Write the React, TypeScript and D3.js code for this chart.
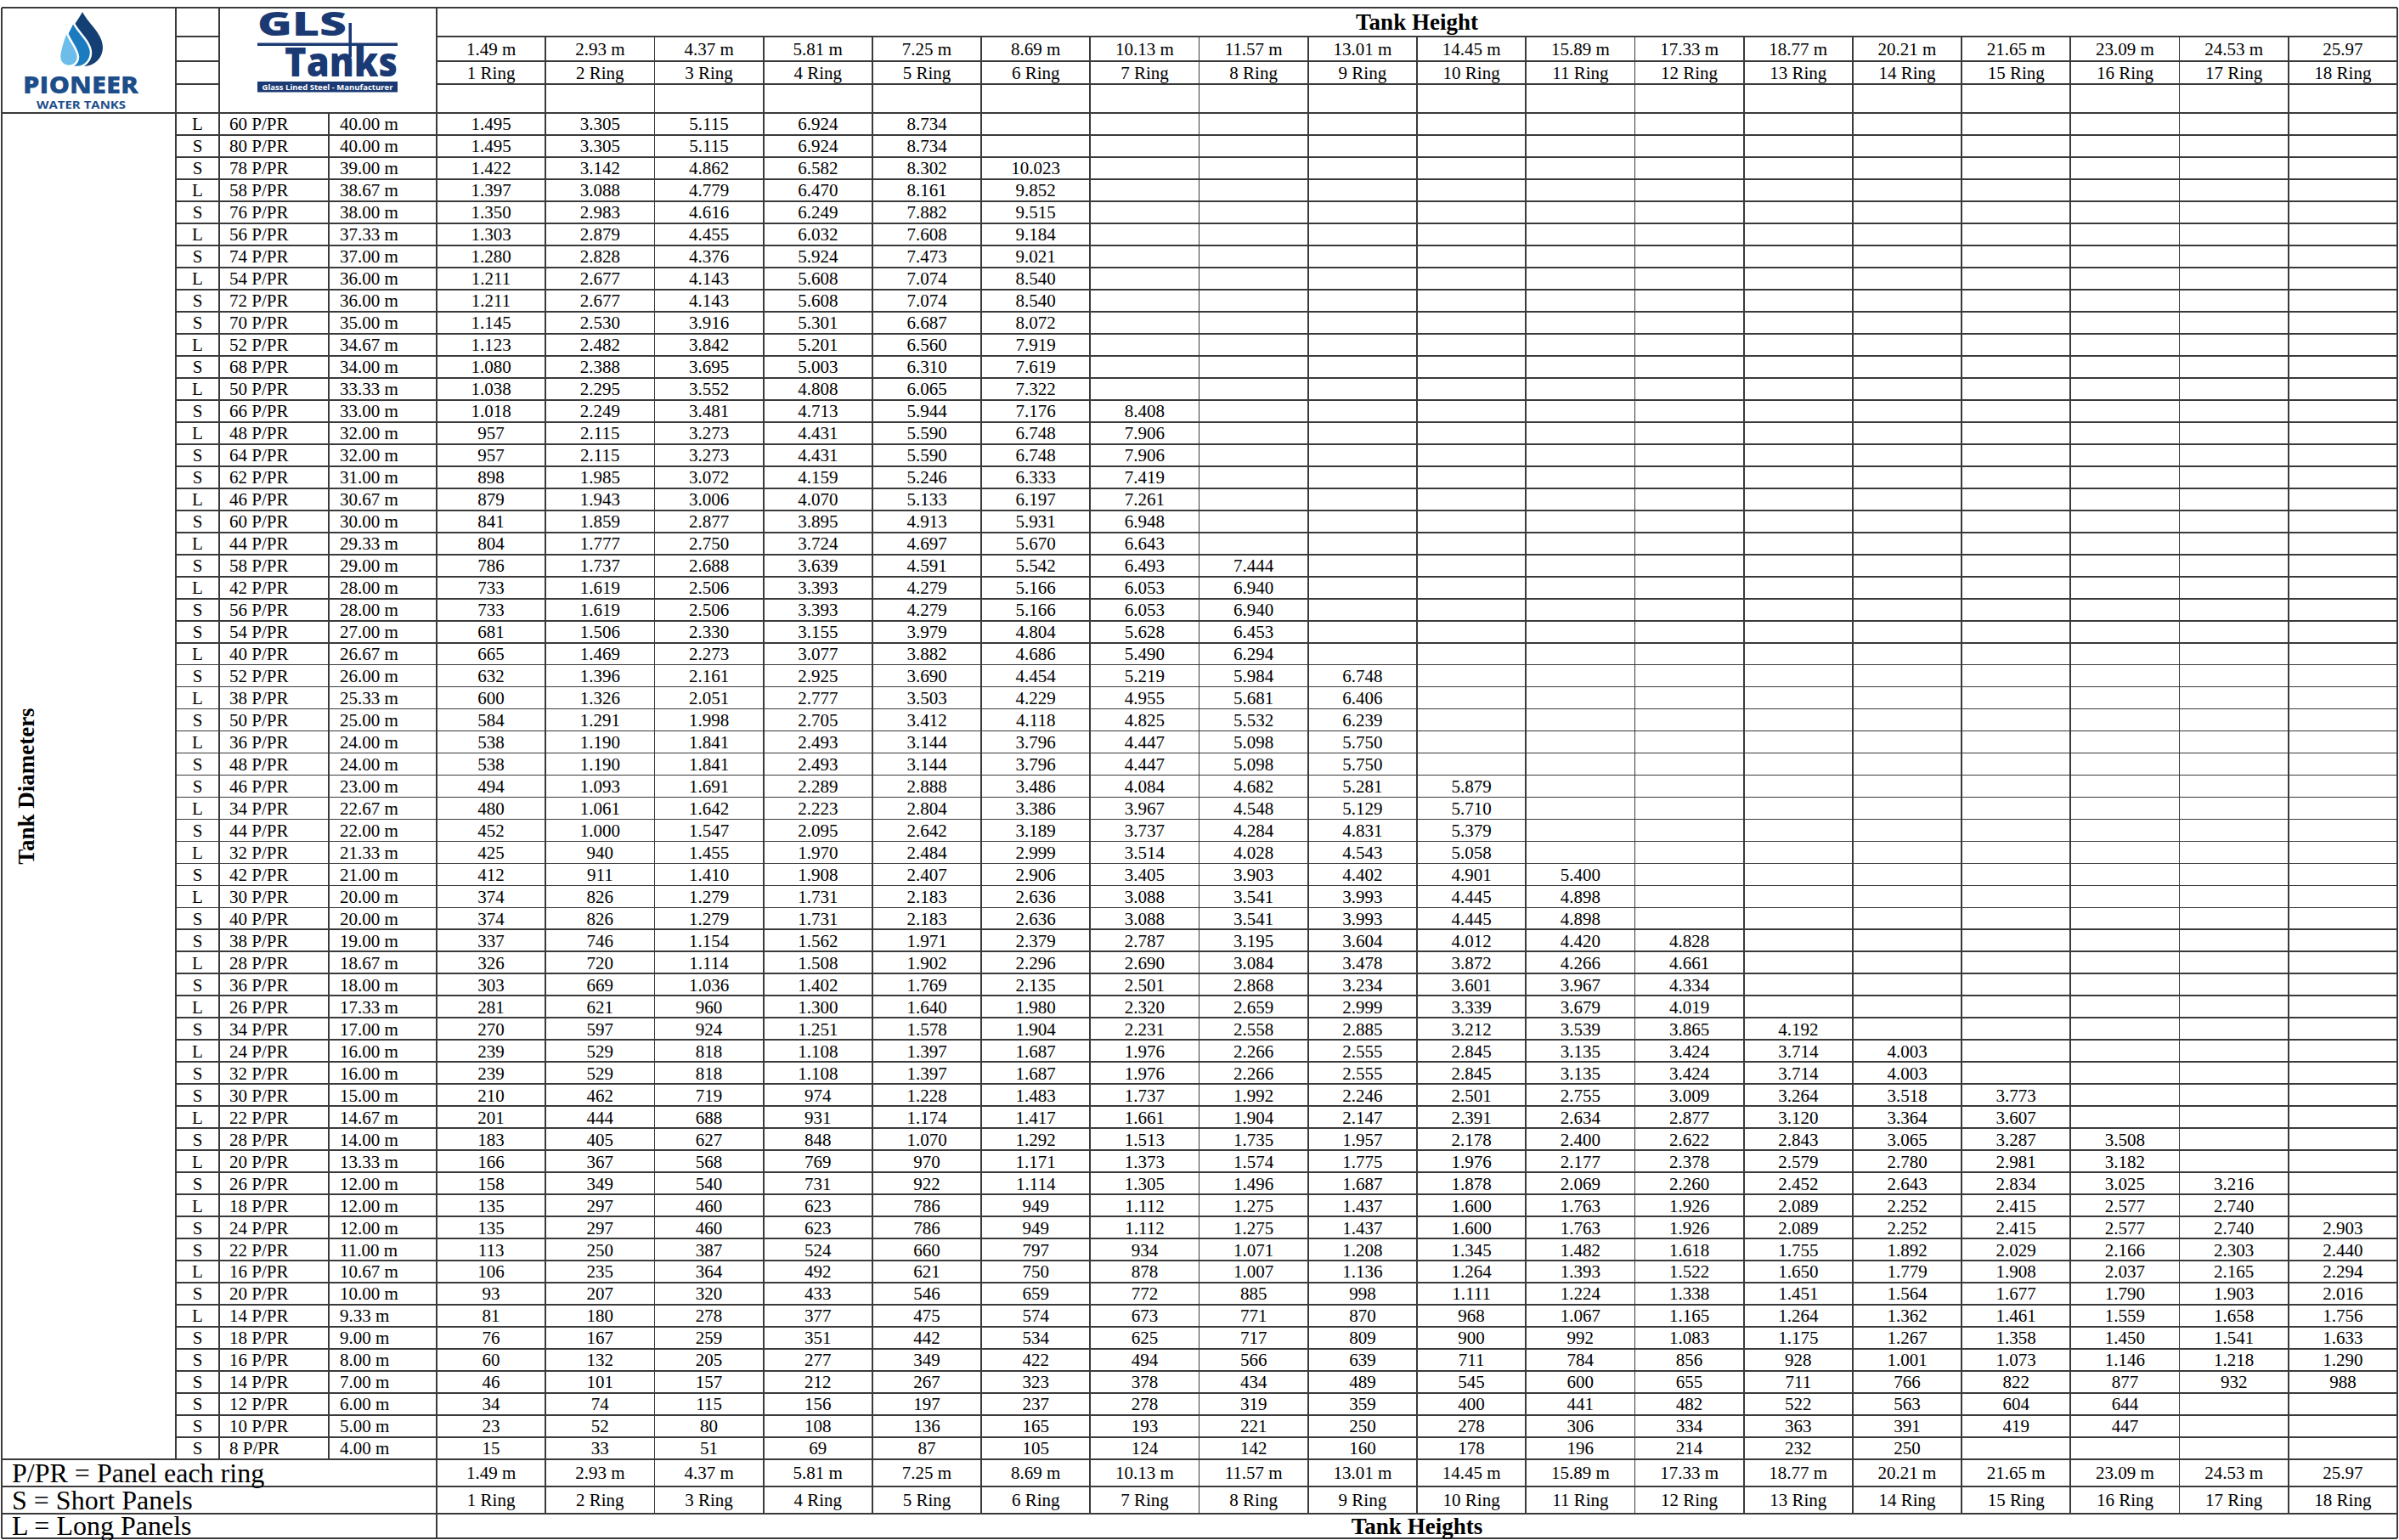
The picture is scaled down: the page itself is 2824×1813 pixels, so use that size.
import React from "react";
import * as d3 from "d3";

// ---------- DATA ----------
const panelTypes = ["L","S","S","L","S","L","S","L","S","S","L","S","L","S","L","S","S","L","S","L","S","L","S","S","L","S","L","S","L","S","S","L","S","L","S","L","S","S","L","S","L","S","L","S","S","L","S","L","S","L","S","S","L","S","L","S","S","S","S","S","S"];
const panelCounts = [60,80,78,58,76,56,74,54,72,70,52,68,50,66,48,64,62,46,60,44,58,42,56,54,40,52,38,50,36,48,46,34,44,32,42,30,40,38,28,36,26,34,24,32,30,22,28,20,26,18,24,22,16,20,14,18,16,14,12,10,8];
const diameters = ["40.00","40.00","39.00","38.67","38.00","37.33","37.00","36.00","36.00","35.00","34.67","34.00","33.33","33.00","32.00","32.00","31.00","30.67","30.00","29.33","29.00","28.00","28.00","27.00","26.67","26.00","25.33","25.00","24.00","24.00","23.00","22.67","22.00","21.33","21.00","20.00","20.00","19.00","18.67","18.00","17.33","17.00","16.00","16.00","15.00","14.67","14.00","13.33","12.00","12.00","12.00","11.00","10.67","10.00","9.33","9.00","8.00","7.00","6.00","5.00","4.00"];

const heightLabels = ["1.49 m","2.93 m","4.37 m","5.81 m","7.25 m","8.69 m","10.13 m","11.57 m","13.01 m","14.45 m","15.89 m","17.33 m","18.77 m","20.21 m","21.65 m","23.09 m","24.53 m","25.97"];
const ringLabels = ["1 Ring","2 Ring","3 Ring","4 Ring","5 Ring","6 Ring","7 Ring","8 Ring","9 Ring","10 Ring","11 Ring","12 Ring","13 Ring","14 Ring","15 Ring","16 Ring","17 Ring","18 Ring"];

const capacities: string[][] = [
  ["1.495","3.305","5.115","6.924","8.734"],
  ["1.495","3.305","5.115","6.924","8.734"],
  ["1.422","3.142","4.862","6.582","8.302","10.023"],
  ["1.397","3.088","4.779","6.470","8.161","9.852"],
  ["1.350","2.983","4.616","6.249","7.882","9.515"],
  ["1.303","2.879","4.455","6.032","7.608","9.184"],
  ["1.280","2.828","4.376","5.924","7.473","9.021"],
  ["1.211","2.677","4.143","5.608","7.074","8.540"],
  ["1.211","2.677","4.143","5.608","7.074","8.540"],
  ["1.145","2.530","3.916","5.301","6.687","8.072"],
  ["1.123","2.482","3.842","5.201","6.560","7.919"],
  ["1.080","2.388","3.695","5.003","6.310","7.619"],
  ["1.038","2.295","3.552","4.808","6.065","7.322"],
  ["1.018","2.249","3.481","4.713","5.944","7.176","8.408"],
  ["957","2.115","3.273","4.431","5.590","6.748","7.906"],
  ["957","2.115","3.273","4.431","5.590","6.748","7.906"],
  ["898","1.985","3.072","4.159","5.246","6.333","7.419"],
  ["879","1.943","3.006","4.070","5.133","6.197","7.261"],
  ["841","1.859","2.877","3.895","4.913","5.931","6.948"],
  ["804","1.777","2.750","3.724","4.697","5.670","6.643"],
  ["786","1.737","2.688","3.639","4.591","5.542","6.493","7.444"],
  ["733","1.619","2.506","3.393","4.279","5.166","6.053","6.940"],
  ["733","1.619","2.506","3.393","4.279","5.166","6.053","6.940"],
  ["681","1.506","2.330","3.155","3.979","4.804","5.628","6.453"],
  ["665","1.469","2.273","3.077","3.882","4.686","5.490","6.294"],
  ["632","1.396","2.161","2.925","3.690","4.454","5.219","5.984","6.748"],
  ["600","1.326","2.051","2.777","3.503","4.229","4.955","5.681","6.406"],
  ["584","1.291","1.998","2.705","3.412","4.118","4.825","5.532","6.239"],
  ["538","1.190","1.841","2.493","3.144","3.796","4.447","5.098","5.750"],
  ["538","1.190","1.841","2.493","3.144","3.796","4.447","5.098","5.750"],
  ["494","1.093","1.691","2.289","2.888","3.486","4.084","4.682","5.281","5.879"],
  ["480","1.061","1.642","2.223","2.804","3.386","3.967","4.548","5.129","5.710"],
  ["452","1.000","1.547","2.095","2.642","3.189","3.737","4.284","4.831","5.379"],
  ["425","940","1.455","1.970","2.484","2.999","3.514","4.028","4.543","5.058"],
  ["412","911","1.410","1.908","2.407","2.906","3.405","3.903","4.402","4.901","5.400"],
  ["374","826","1.279","1.731","2.183","2.636","3.088","3.541","3.993","4.445","4.898"],
  ["374","826","1.279","1.731","2.183","2.636","3.088","3.541","3.993","4.445","4.898"],
  ["337","746","1.154","1.562","1.971","2.379","2.787","3.195","3.604","4.012","4.420","4.828"],
  ["326","720","1.114","1.508","1.902","2.296","2.690","3.084","3.478","3.872","4.266","4.661"],
  ["303","669","1.036","1.402","1.769","2.135","2.501","2.868","3.234","3.601","3.967","4.334"],
  ["281","621","960","1.300","1.640","1.980","2.320","2.659","2.999","3.339","3.679","4.019"],
  ["270","597","924","1.251","1.578","1.904","2.231","2.558","2.885","3.212","3.539","3.865","4.192"],
  ["239","529","818","1.108","1.397","1.687","1.976","2.266","2.555","2.845","3.135","3.424","3.714","4.003"],
  ["239","529","818","1.108","1.397","1.687","1.976","2.266","2.555","2.845","3.135","3.424","3.714","4.003"],
  ["210","462","719","974","1.228","1.483","1.737","1.992","2.246","2.501","2.755","3.009","3.264","3.518","3.773"],
  ["201","444","688","931","1.174","1.417","1.661","1.904","2.147","2.391","2.634","2.877","3.120","3.364","3.607"],
  ["183","405","627","848","1.070","1.292","1.513","1.735","1.957","2.178","2.400","2.622","2.843","3.065","3.287","3.508"],
  ["166","367","568","769","970","1.171","1.373","1.574","1.775","1.976","2.177","2.378","2.579","2.780","2.981","3.182"],
  ["158","349","540","731","922","1.114","1.305","1.496","1.687","1.878","2.069","2.260","2.452","2.643","2.834","3.025","3.216"],
  ["135","297","460","623","786","949","1.112","1.275","1.437","1.600","1.763","1.926","2.089","2.252","2.415","2.577","2.740"],
  ["135","297","460","623","786","949","1.112","1.275","1.437","1.600","1.763","1.926","2.089","2.252","2.415","2.577","2.740","2.903"],
  ["113","250","387","524","660","797","934","1.071","1.208","1.345","1.482","1.618","1.755","1.892","2.029","2.166","2.303","2.440"],
  ["106","235","364","492","621","750","878","1.007","1.136","1.264","1.393","1.522","1.650","1.779","1.908","2.037","2.165","2.294"],
  ["93","207","320","433","546","659","772","885","998","1.111","1.224","1.338","1.451","1.564","1.677","1.790","1.903","2.016"],
  ["81","180","278","377","475","574","673","771","870","968","1.067","1.165","1.264","1.362","1.461","1.559","1.658","1.756"],
  ["76","167","259","351","442","534","625","717","809","900","992","1.083","1.175","1.267","1.358","1.450","1.541","1.633"],
  ["60","132","205","277","349","422","494","566","639","711","784","856","928","1.001","1.073","1.146","1.218","1.290"],
  ["46","101","157","212","267","323","378","434","489","545","600","655","711","766","822","877","932","988"],
  ["34","74","115","156","197","237","278","319","359","400","441","482","522","563","604","644"],
  ["23","52","80","108","136","165","193","221","250","278","306","334","363","391","419","447"],
  ["15","33","51","69","87","105","124","142","160","178","196","214","232","250"],
];

const legendLines = ["P/PR = Panel each ring", "S = Short Panels", "L = Long Panels"];

// ---------- LAYOUT ----------
const W = 2824;
const H = 1813;
const X_LEFT = 2, X_LS = 207, X_PR = 258, X_DIA = 387, X_DATA = 514, X_RIGHT = 2822;
const Y_TOP = 9, Y_H1 = 43, Y_H2 = 72, Y_H3 = 99, Y_BODY = 133, Y_F0 = 1718, Y_F1 = 1750, Y_F2 = 1782, Y_BOT = 1811;

const SERIF = '"Liberation Serif", "Times New Roman", Times, serif';
const SANS = '"Open Sans", "Noto Sans", sans-serif';
const LINE = "#3a3a3a";
const NAVY = "#1b3a74";

function dropPath(cx: number, cy: number, r: number, tipX: number, tipY: number) {
  return `M ${tipX} ${tipY} C ${tipX + r * 0.35} ${tipY + (cy - tipY) * 0.35}, ${cx + r} ${cy - r * 0.75}, ${cx + r} ${cy} A ${r} ${r} 0 0 1 ${cx - r} ${cy} C ${cx - r} ${cy - r * 0.75}, ${tipX - r * 0.35} ${tipY + (cy - tipY) * 0.35}, ${tipX} ${tipY} Z`;
}

export default function App() {
  const nCols = heightLabels.length;
  const x = d3.scaleLinear().domain([0, nCols]).range([X_DATA, X_RIGHT]);
  const rows = d3.range(capacities.length);
  const y = d3.scaleBand<number>().domain(rows).range([Y_BODY, Y_F0]);
  const rh = y.bandwidth();
  const colCenter = (i: number) => (x(i) + x(i + 1)) / 2;

  const hLines: { x1: number; x2: number; y: number; w: number }[] = [];
  [Y_H1, Y_H2].forEach((yy) => {
    hLines.push({ x1: X_LS, x2: X_PR, y: yy, w: 1.8 });
    hLines.push({ x1: X_DATA, x2: X_RIGHT, y: yy, w: 1.8 });
  });
  hLines.push({ x1: X_LS, x2: X_PR, y: Y_H3, w: 2.6 });
  hLines.push({ x1: X_DATA, x2: X_RIGHT, y: Y_H3, w: 2.6 });
  [Y_TOP, Y_BODY, Y_F0, Y_F1, Y_F2, Y_BOT].forEach((yy) =>
    hLines.push({ x1: X_LEFT, x2: X_RIGHT, y: yy, w: 2.6 })
  );
  rows.slice(1).forEach((r) => hLines.push({ x1: X_LS, x2: X_RIGHT, y: y(r)!, w: 1.8 }));

  const vLines: { x: number; y1: number; y2: number; w: number }[] = [
    { x: X_LEFT, y1: Y_TOP, y2: Y_BOT, w: 2.6 },
    { x: X_RIGHT, y1: Y_TOP, y2: Y_BOT, w: 2.6 },
    { x: X_LS, y1: Y_TOP, y2: Y_F0, w: 1.8 },
    { x: X_PR, y1: Y_TOP, y2: Y_F0, w: 1.8 },
    { x: X_DIA, y1: Y_BODY, y2: Y_F0, w: 1.8 },
    { x: X_DATA, y1: Y_TOP, y2: Y_BOT, w: 1.8 },
  ];
  d3.range(1, nCols).forEach((i) => vLines.push({ x: x(i), y1: Y_H1, y2: Y_F2, w: 1.8 }));

  const midH1 = (Y_TOP + Y_H1) / 2;
  const midH2 = (Y_H1 + Y_H2) / 2;
  const midH3 = (Y_H2 + Y_H3) / 2;
  const midF1 = (Y_F0 + Y_F1) / 2;
  const midF2 = (Y_F1 + Y_F2) / 2;
  const midF3 = (Y_F2 + Y_BOT) / 2;

  return (
    <svg
      width={W}
      height={H}
      viewBox={`0 0 ${W} ${H}`}
      style={{ position: "absolute", left: 0, top: 0, background: "#fff" }}
    >
      <rect x={0} y={0} width={W} height={H} fill="#fff" />

      {/* Pioneer logo */}
      <g>
        <path d={dropPath(99, 56, 22, 97, 14)} fill="#143f74" />
        <path d={dropPath(90, 62, 17, 86, 26)} fill="#1b7bc0" stroke="#fff" strokeWidth={2.5} />
        <path d={dropPath(81, 67, 11, 78, 37)} fill="#6cbde9" stroke="#fff" strokeWidth={2.5} />
        <text fontFamily={SANS} fill="#1d4e89">
          <tspan x={27} y={110} fontWeight={800} fontSize={28} textLength={136} lengthAdjust="spacingAndGlyphs">PIONEER</tspan>
          <tspan x={43} y={127.5} fontWeight={700} fontSize={13} textLength={105} lengthAdjust="spacingAndGlyphs">WATER TANKS</tspan>
        </text>
      </g>

      {/* GLS Tanks logo */}
      <g>
        <rect x={303} y={50.5} width={165} height={3.5} fill={NAVY} />
        <rect x={410.5} y={27} width={3.5} height={40} fill={NAVY} />
        <rect x={303} y={96} width={165} height={12.5} fill={NAVY} />
        <text fontFamily={SANS} fontWeight={800} fill={NAVY}>
          <tspan x={303} y={42} fontSize={38} textLength={105} lengthAdjust="spacingAndGlyphs">GLS</tspan>
          <tspan x={335} y={90} fontSize={47} textLength={133} lengthAdjust="spacingAndGlyphs">Tanks</tspan>
          <tspan x={308.5} y={105.5} fontSize={9} fontWeight={700} fill="#fff" textLength={154} lengthAdjust="spacingAndGlyphs">Glass Lined Steel - Manufacturer</tspan>
        </text>
      </g>

      {/* grid */}
      <g stroke={LINE} shapeRendering="crispEdges">
        {hLines.map((l, i) => (
          <line key={"h" + i} x1={l.x1} x2={l.x2} y1={l.y} y2={l.y} strokeWidth={l.w} />
        ))}
        {vLines.map((l, i) => (
          <line key={"v" + i} x1={l.x} x2={l.x} y1={l.y1} y2={l.y2} strokeWidth={l.w} />
        ))}
      </g>

      {/* header */}
      <text x={(X_DATA + X_RIGHT) / 2} y={midH1} dy="0.35em" textAnchor="middle" fontFamily={SERIF} fontWeight={700} fontSize={27} fill="#000">Tank Height</text>
      <g fontFamily={SERIF} fontSize={21} fill="#000" textAnchor="middle">
        {heightLabels.map((t, i) => (
          <text key={"hh" + i} x={colCenter(i)} y={midH2} dy="0.35em">{t}</text>
        ))}
        {ringLabels.map((t, i) => (
          <text key={"hr" + i} x={colCenter(i)} y={midH3} dy="0.35em">{t}</text>
        ))}
      </g>

      {/* side label */}
      <text transform={`translate(31, ${(Y_BODY + Y_F0) / 2}) rotate(-90)`} dy="0.35em" textAnchor="middle" fontFamily={SERIF} fontWeight={700} fontSize={27} fill="#000">Tank Diameters</text>

      {/* body */}
      <g fontFamily={SERIF} fontSize={21} fill="#000">
        {rows.map((r) => {
          const cy = y(r)! + rh / 2;
          return (
            <g key={"r" + r}>
              <text x={(X_LS + X_PR) / 2} y={cy} dy="0.35em" textAnchor="middle">{panelTypes[r]}</text>
              <text x={X_PR + 12} y={cy} dy="0.35em">{`${panelCounts[r]} P/PR`}</text>
              <text x={X_DIA + 13} y={cy} dy="0.35em">{`${diameters[r]} m`}</text>
              {capacities[r].map((v, i) => (
                <text key={i} x={colCenter(i)} y={cy} dy="0.35em" textAnchor="middle">{v}</text>
              ))}
            </g>
          );
        })}
      </g>

      {/* footer */}
      <g fontFamily={SERIF} fill="#000">
        {[midF1, midF2, midF3].map((cy, i) => (
          <text key={"lg" + i} x={14} y={cy} dy="0.33em" fontSize={32}>{legendLines[i]}</text>
        ))}
        <g fontSize={21} textAnchor="middle">
          {heightLabels.map((t, i) => (
            <text key={"fh" + i} x={colCenter(i)} y={midF1} dy="0.35em">{t}</text>
          ))}
          {ringLabels.map((t, i) => (
            <text key={"fr" + i} x={colCenter(i)} y={midF2} dy="0.35em">{t}</text>
          ))}
        </g>
        <text x={(X_DATA + X_RIGHT) / 2} y={midF3} dy="0.35em" textAnchor="middle" fontWeight={700} fontSize={27}>Tank Heights</text>
      </g>
    </svg>
  );
}
